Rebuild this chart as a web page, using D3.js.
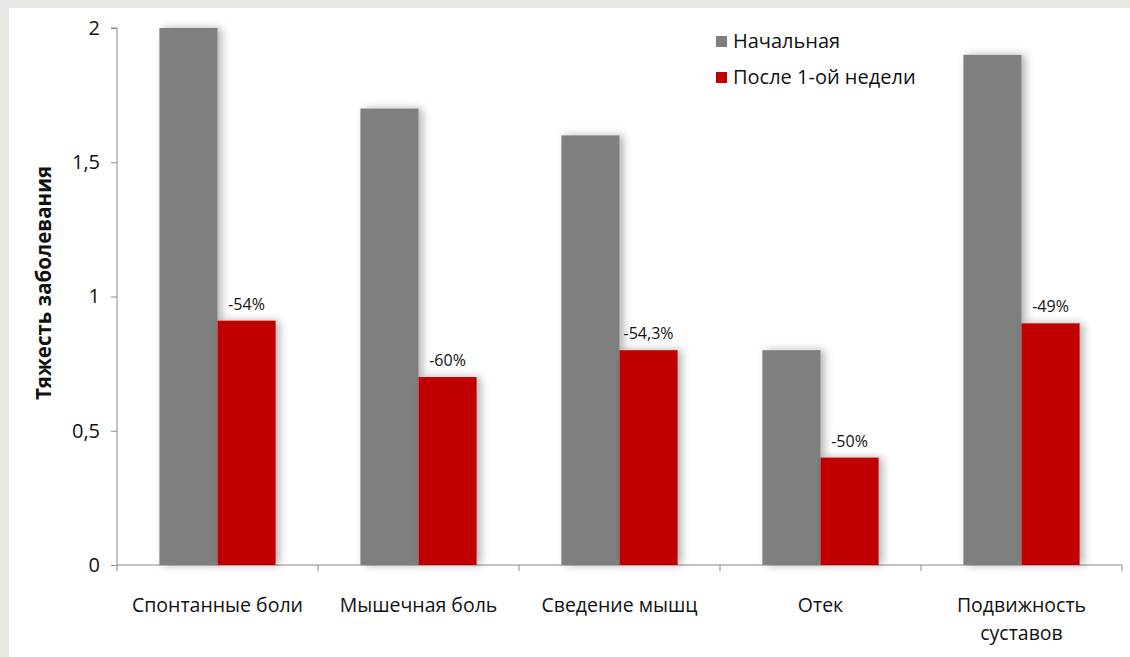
<!DOCTYPE html>
<html>
<head>
<meta charset="utf-8">
<script src="https://cdn.jsdelivr.net/npm/d3@7"></script>
<style>
  body { margin: 0; background: #e6e6e2; }
  svg { display: block; }
  text { font-family: "Open Sans", "Noto Sans", sans-serif; fill: #111; }
</style>
</head>
<body>
<svg id="chart" width="1130" height="657"></svg>
<script>
const categories = ["Спонтанные боли", "Мышечная боль", "Сведение мышц", "Отек", "Подвижность|суставов"];
const seriesNames = ["Начальная", "После 1-ой недели"];
const baseline = [2, 1.7, 1.6, 0.8, 1.9];
const afterWeek = [0.91, 0.7, 0.8, 0.4, 0.9];
const changeLabels = ["-54%", "-60%", "-54,3%", "-50%", "-49%"];
const yTicks = [0, 0.5, 1, 1.5, 2];
const colors = ["#7f7f7f", "#c00000"];

const svg = d3.select("#chart");
svg.append("rect").attr("x", 9).attr("y", 8).attr("width", 1121).attr("height", 649).attr("fill", "#fff");

const defs = svg.append("defs");
const f = defs.append("filter").attr("id", "shadow")
    .attr("x", "-20%").attr("y", "-5%").attr("width", "160%").attr("height", "110%");
f.append("feDropShadow").attr("dx", 4).attr("dy", 0).attr("stdDeviation", 4)
    .attr("flood-color", "#000").attr("flood-opacity", 0.3);

const x = d3.scaleBand().domain(d3.range(categories.length)).range([117, 1122]).paddingInner(0).paddingOuter(0);
const y = d3.scaleLinear().domain([0, 2]).range([565, 28]);
const inner = d3.scaleBand().domain([0, 1]).range([0, x.bandwidth()]).paddingOuter(0.73).paddingInner(0);

// y axis
const yAxis = svg.append("g").attr("transform", "translate(117,0)")
    .call(d3.axisLeft(y).tickValues(yTicks).tickSize(6).tickPadding(11)
        .tickFormat(d => String(d).replace(".", ",")));
yAxis.select(".domain").attr("stroke", "#888").attr("d", `M-6,${y(2)}H0V${y(0)}`);
yAxis.selectAll(".tick line").attr("stroke", "#888");
yAxis.selectAll(".tick text").attr("font-size", 20).attr("fill", "#111");

// x axis
const xAxis = svg.append("g").attr("transform", `translate(0,${y(0)})`);
xAxis.append("line").attr("x1", 117).attr("x2", 1122).attr("stroke", "#888");
xAxis.selectAll("line.tk").data(d3.range(categories.length + 1)).join("line").attr("class", "tk")
    .attr("x1", i => 117 + i * x.bandwidth()).attr("x2", i => 117 + i * x.bandwidth())
    .attr("y1", 0).attr("y2", 6).attr("stroke", "#888");

// bars
const series = [baseline, afterWeek];
series.forEach((vals, s) => {
  svg.append("g").selectAll("rect").data(vals).join("rect")
    .attr("x", (d, i) => x(i) + inner(s))
    .attr("y", d => y(d))
    .attr("width", inner.bandwidth())
    .attr("height", d => y(0) - y(d))
    .attr("fill", colors[s])
    .attr("filter", "url(#shadow)");
});

// value labels
svg.append("g").selectAll("text").data(afterWeek).join("text")
  .attr("x", (d, i) => x(i) + inner(1) + inner.bandwidth() / 2)
  .attr("y", d => y(d) - 11)
  .attr("text-anchor", "middle").attr("font-size", 16)
  .text((d, i) => changeLabels[i]);

// category labels
const cl = svg.append("g").selectAll("text").data(categories).join("text")
  .attr("x", (d, i) => x(i) + x.bandwidth() / 2)
  .attr("y", 612).attr("text-anchor", "middle").attr("font-size", 19.5);
cl.each(function(d) {
  d.split("|").forEach((line, k) => {
    d3.select(this).append("tspan").attr("x", d3.select(this).attr("x"))
      .attr("dy", k === 0 ? 0 : 28).text(line);
  });
});

// y title
svg.append("text").attr("transform", "translate(51,283) rotate(-90)")
  .attr("text-anchor", "middle").attr("font-size", 20.5).attr("font-weight", "bold")
  .text("Тяжесть заболевания");

// legend
const lg = svg.append("g").selectAll("g").data(seriesNames).join("g")
  .attr("transform", (d, i) => `translate(716,${36 + i * 36})`);
lg.append("rect").attr("width", 11).attr("height", 11).attr("fill", (d, i) => colors[i]);
lg.append("text").attr("x", 17).attr("y", 12).attr("font-size", 20).text(d => d);
</script>
</body>
</html>
